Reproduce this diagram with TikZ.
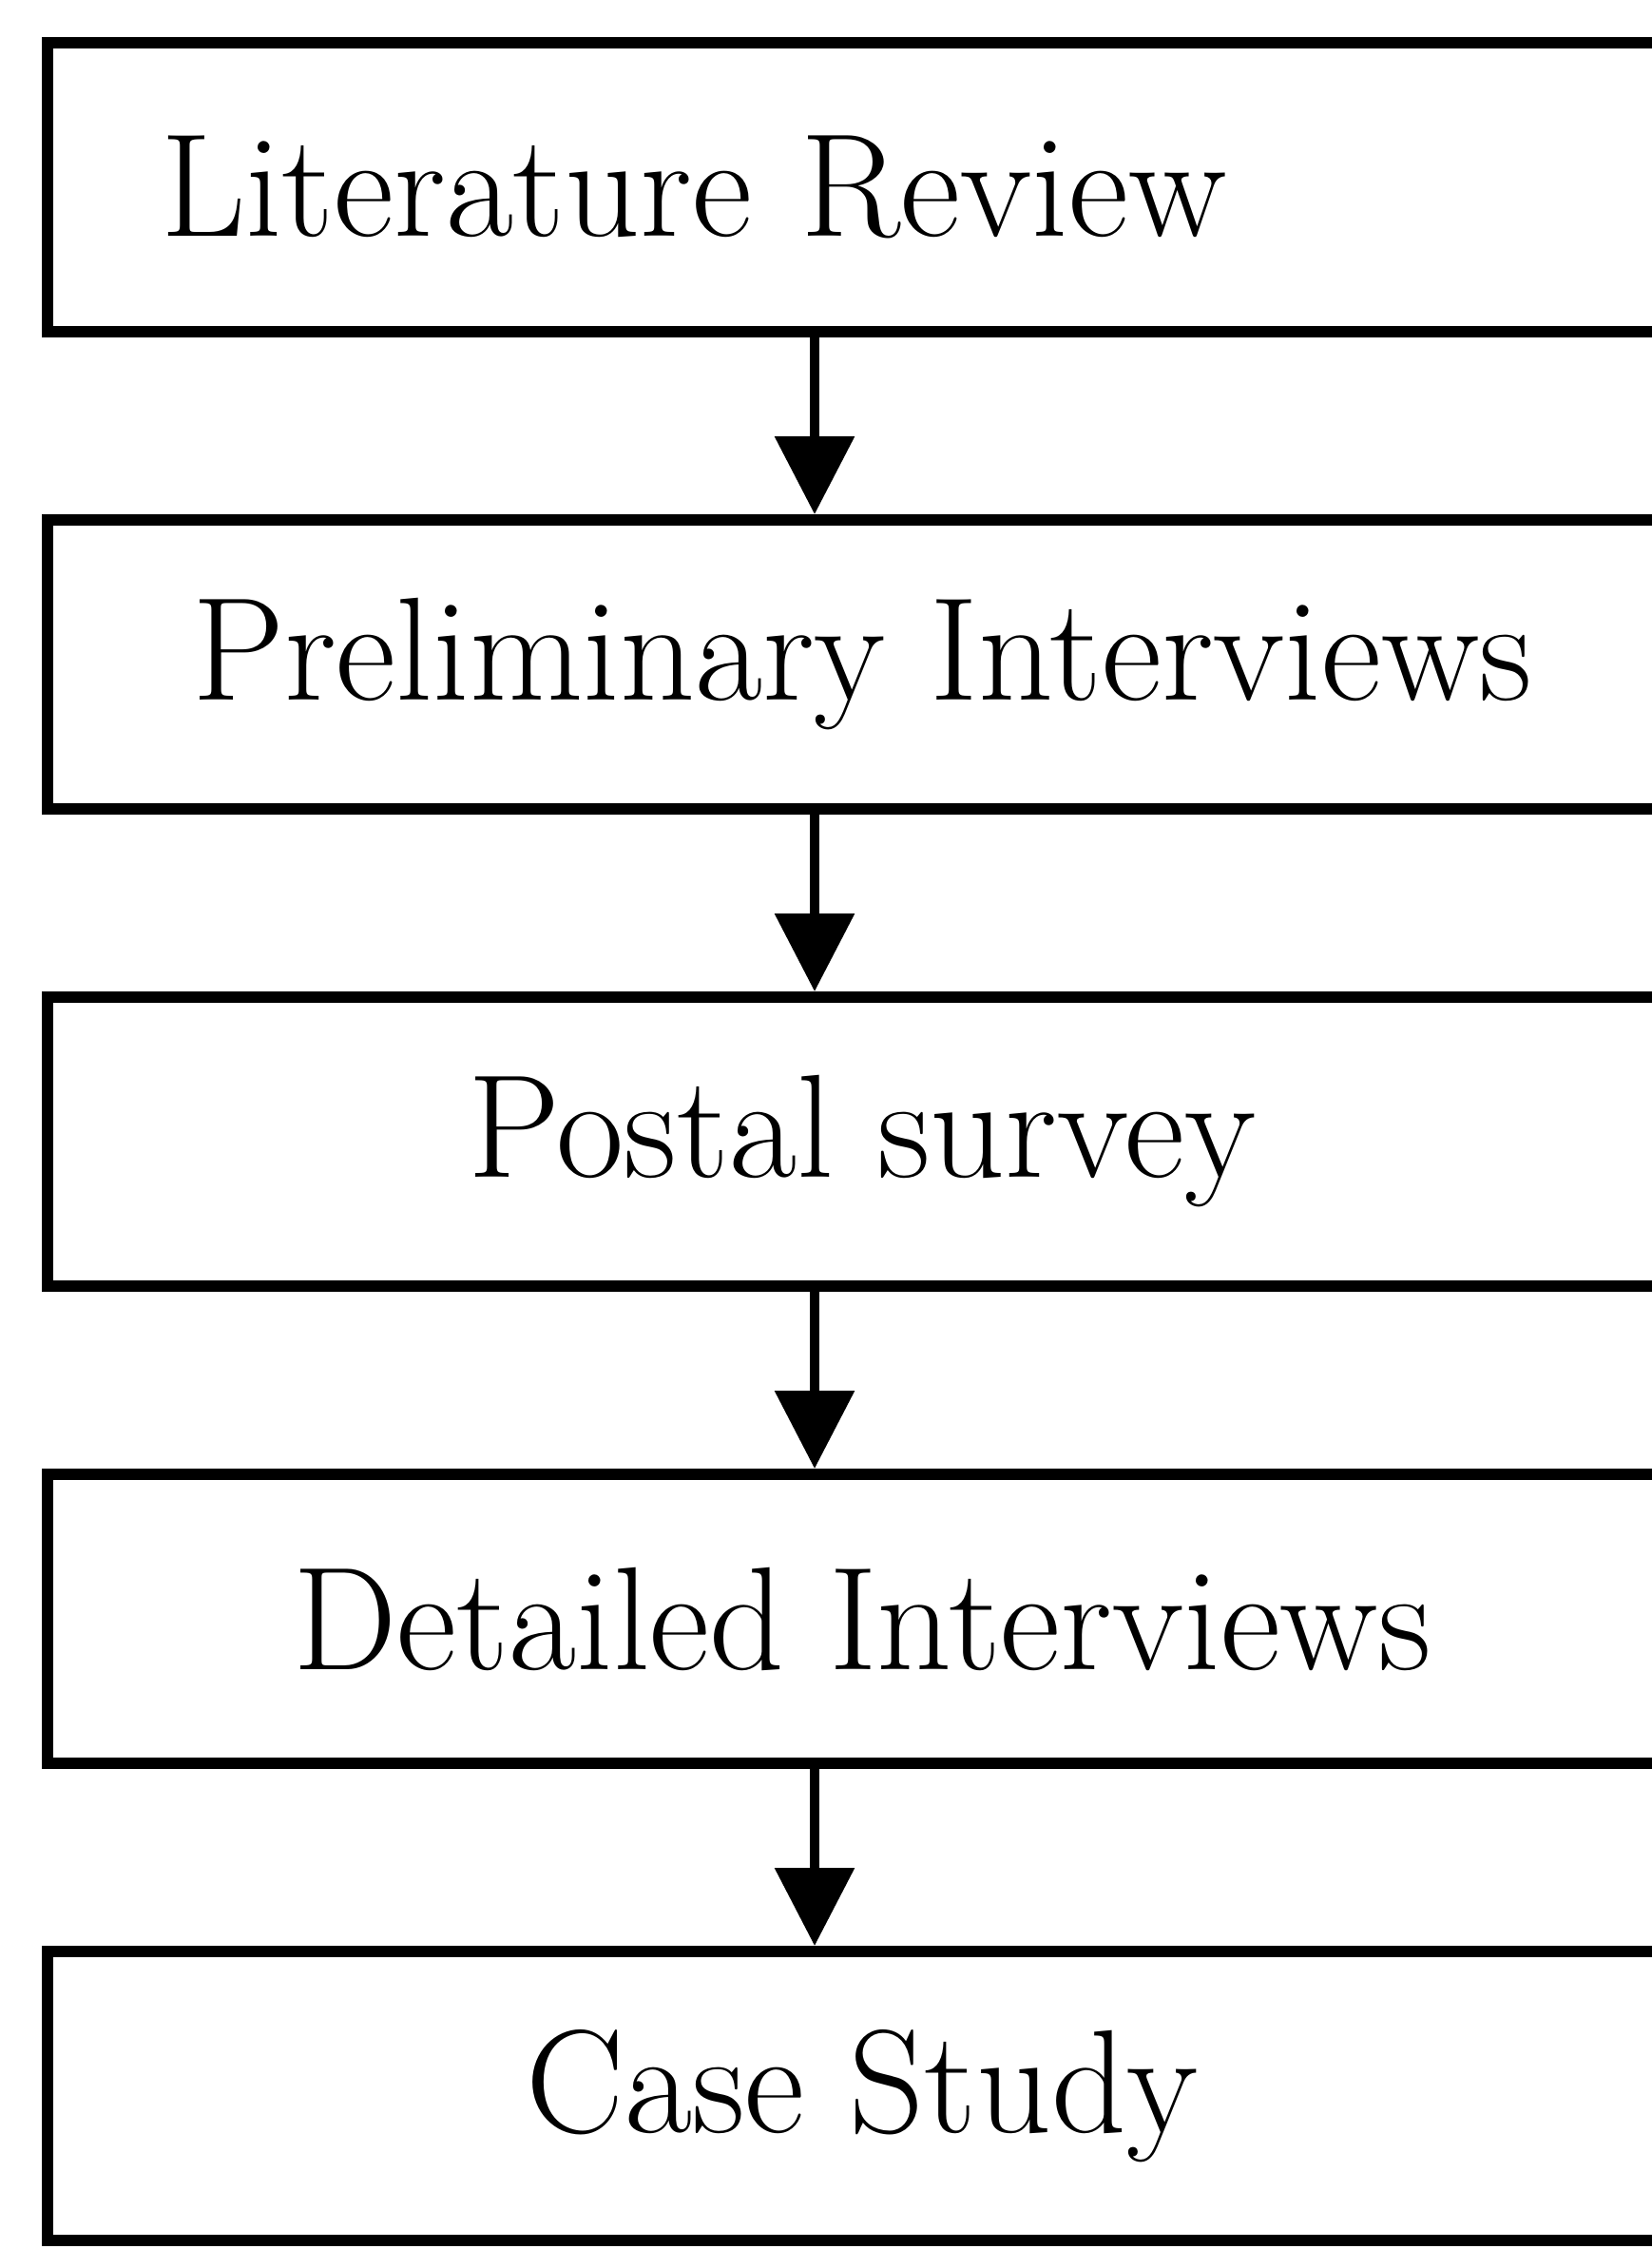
\documentclass[tikz,border=0pt]{standalone}
\usepackage{tikz}
\usetikzlibrary{positioning,arrows.meta}

\begin{document}
\begin{tikzpicture}[
	stagebox/.style={rectangle,draw,line width=0.12cm,minimum width=17.14cm,minimum height=3.04cm,inner sep=0pt,font=\fontsize{44}{52}\selectfont},
	flowarrow/.style={line width=0.1cm,-{Triangle[width=0.82cm,length=0.82cm]}}
	]

	% page frame
	\useasboundingbox (0,0) rectangle (17.38,-23.66);
	\clip (0,0) rectangle (17.38,-23.66);

	% stages
	\node[stagebox,text width=14.76cm,align=left,inner xsep=1.19cm] (litreview) at (9.07,-1.97) {Literature Review};
	\node[stagebox,below=1.86cm of litreview] (prelim) {Preliminary Interviews};
	\node[stagebox,below=1.86cm of prelim] (postal) {Postal survey};
	\node[stagebox,below=1.86cm of postal] (detailed) {Detailed Interviews};
	\node[stagebox,below=1.86cm of detailed] (casestudy) {Case Study};

	% arrows between stages
	\draw[flowarrow] ([xshift=-0.5cm]litreview.south) -- ([xshift=-0.5cm]prelim.north);
	\draw[flowarrow] ([xshift=-0.5cm]prelim.south) -- ([xshift=-0.5cm]postal.north);
	\draw[flowarrow] ([xshift=-0.5cm]postal.south) -- ([xshift=-0.5cm]detailed.north);
	\draw[flowarrow] ([xshift=-0.5cm]detailed.south) -- ([xshift=-0.5cm]casestudy.north);

\end{tikzpicture}
\end{document}
